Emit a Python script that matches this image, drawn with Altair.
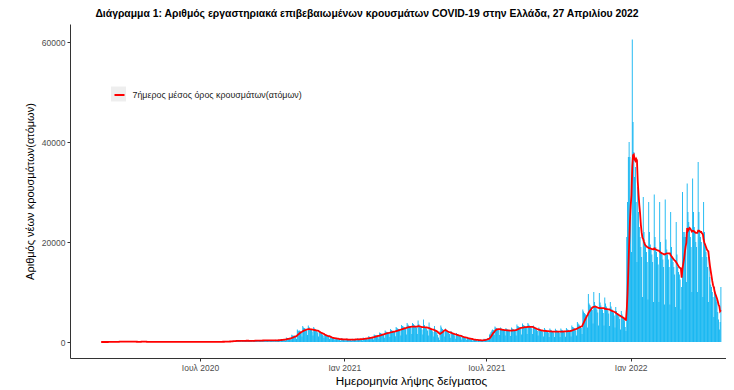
import altair as alt
import pandas as pd

# Daily laboratory-confirmed cases by sampling date, from 2020-02-26
cases_2020 = [
    1, 2, 0, 3, 0,
    2, 1, 0, 9, 14, 21, 4,
    26, 14, 10, 19, 36, 38, 12,
    58, 42, 50, 76, 84, 70, 40,
    95, 71, 78, 100, 92, 81, 55,
    98, 86, 102, 86, 60, 81, 32,
    70, 62, 54, 48, 40, 28, 20,
    30, 25, 22, 60, 150, 156, 20,
    90, 46, 24, 20, 15, 12, 6,
    18, 16, 13, 12, 8, 7, 4,
    12, 10, 9, 8, 6, 5, 3,
    11, 9, 8, 7, 6, 5, 2,
    12, 10, 8, 7, 9, 6, 3,
    10, 8, 7, 9, 14, 6, 3,
    12, 10, 9, 18, 12, 8, 4,
    17, 12, 13, 97, 24, 14, 6,
    20, 16, 24, 18, 15, 13, 6,
    22, 18, 19, 16, 14, 12, 5,
    26, 20, 18, 15, 24, 22, 10,
    30, 28, 22, 35, 40, 25, 12,
    38, 30, 34, 28, 40, 32, 14,
    45, 40, 36, 42, 38, 30, 18,
    60, 55, 68, 72, 58, 50, 30,
    110, 90, 125, 118, 120, 95, 60,
    210, 190, 230, 260, 200, 180, 110,
    270, 230, 250, 230, 220, 210, 120,
    300, 280, 260, 270, 250, 240, 130,
    320, 270, 230, 250, 240, 210, 120,
    330, 300, 280, 320, 270, 230, 130,
    380, 350, 330, 340, 300, 280, 150,
    420, 380, 360, 340, 320, 290, 160,
    400, 360, 350, 330, 310, 280, 150,
    460, 420, 400, 380, 360, 310, 170,
    620, 560, 540, 520, 500, 450, 260,
    900, 820, 800, 760, 720, 640, 380,
    1450, 1300, 1250, 1300, 1200, 1100, 620,
    2500, 2300, 2200, 2300, 2100, 1800, 1100,
    3200, 2900, 2800, 2700, 2500, 2300, 1400,
    3300, 3000, 2700, 2600, 2400, 2100, 1300,
    3000, 2700, 2500, 2300, 2100, 1900, 1100,
    2200, 2000, 1800, 1700, 1500, 1300, 800,
    1500, 1400, 1300, 1200, 1100, 1000, 600,
    1000, 900, 850, 800, 750, 650, 380,
    800, 750, 700, 550, 500, 400, 250,
    750, 700, 650, 500,
]

cases_2021 = [
    350, 400, 280,
    700, 600, 500, 450, 450, 420, 260,
    650, 600, 560, 520, 500, 460, 280,
    750, 650, 620, 600, 560, 520, 300,
    900, 800, 760, 740, 720, 660, 380,
    1150, 1050, 1000, 950, 900, 850, 500,
    1500, 1400, 1350, 1300, 1250, 1150, 650,
    1900, 1800, 1700, 1650, 1600, 1500, 850,
    2300, 2100, 2000, 1950, 1900, 1800, 1000,
    2600, 2400, 2300, 2200, 2150, 2000, 1150,
    3000, 2800, 2700, 2600, 2500, 2300, 1300,
    3400, 3200, 3100, 3000, 2900, 2700, 1500,
    3800, 3500, 3300, 3200, 3100, 2900, 1600,
    3800, 3600, 3400, 3200, 3100, 2900, 1600,
    4300, 3600, 3100, 2900, 2800, 2500, 1500,
    4500, 3400, 3000, 2800, 2600, 2300, 1300,
    3900, 3000, 2600, 2400, 2200, 2000, 1100,
    3200, 2500, 2100, 1800, 1400, 900, 400,
    2200, 3300, 2900, 2600, 2300, 2000, 1100,
    2700, 2400, 2200, 2000, 1800, 1600, 850,
    2200, 1900, 1700, 1600, 1400, 1250, 650,
    1800, 1550, 1350, 1250, 1150, 1000, 500,
    1300, 1100, 950, 900, 850, 750, 380,
    900, 750, 650, 600, 560, 480, 260,
    600, 500, 440, 420, 380, 330, 170,
    480, 400, 360, 340, 320, 280, 150,
    650, 580, 560, 620, 680, 720, 420,
    1500, 1700, 2000, 2300, 2500, 2400, 1400,
    3100, 2900, 2800, 2700, 2600, 2400, 1400,
    2900, 2700, 2600, 2500, 2400, 2200, 1300,
    2800, 2600, 2500, 2400, 2300, 2100, 1200,
    2900, 2700, 2600, 2500, 2400, 2200, 1300,
    3500, 3200, 3100, 3000, 2900, 2700, 1500,
    3700, 3400, 3300, 3200, 3000, 2800, 1600,
    3800, 3500, 3300, 3200, 3000, 2700, 1600,
    3300, 3000, 2800, 2700, 2500, 2200, 1300,
    2900, 2600, 2500, 2400, 2200, 2000, 1100,
    2800, 2500, 2400, 2300, 2100, 1900, 1000,
    2700, 2450, 2300, 2200, 2050, 1850, 1000,
    2650, 2400, 2300, 2200, 2050, 1850, 1000,
    2700, 2450, 2350, 2250, 2100, 1900, 1050,
    2800, 2550, 2450, 2350, 2200, 2000, 1100,
    3300, 3000, 2900, 2800, 2600, 2300, 1300,
    4000, 3700, 3500, 3300, 3100, 2800, 1600,
    6500, 6100, 5800, 5600, 5400, 5000, 2900,
    9600, 7700, 7400, 7100, 6900, 6400, 3700,
    10000, 8000, 7300, 6800, 6500, 5900, 3300,
    9800, 7900, 7300, 6800, 6500, 5800, 3300,
    8900, 7700, 7100, 6700, 6300, 5700, 3200,
    8000, 7100, 6600, 6200, 5900, 5300, 2900,
    7000, 6200, 5800, 5400, 5100, 4600, 2500,
    6200, 5500, 5100, 4700, 4300, 3000, 2200,
    21000, 28000, 37000, 40000, 37000,
]

cases_2022 = [
    25000, 18000,
    60500, 44000, 38000, 33000, 35000, 28000, 16000,
    31000, 26000, 23000, 21000, 19000, 17000, 9000,
    29000, 22000, 20000, 19000, 18000, 16000, 8500,
    28000, 22000, 19500, 18500, 17500, 16000, 8000,
    29500, 21000, 19000, 18000, 17000, 15500, 8000,
    28000, 20000, 18000, 17500, 16500, 15000, 7500,
    28500, 20500, 18500, 17500, 16500, 15000, 7500,
    26000, 19000, 17000, 16000, 15000, 13500, 7000,
    24000, 17500, 15000, 14000, 13500, 12500, 6500,
    11000, 30000, 22000, 21000, 22000, 21000, 12000,
    31700, 26000, 24000, 23000, 21000, 19000, 10000,
    32700, 26000, 23000, 22000, 20000, 19000, 10000,
    36000, 26000, 22000, 21000, 20000, 17000, 9000,
    28000, 22000, 19000, 18000, 17000, 15000, 8000,
    17000, 13000, 11500, 11000, 10000, 9000, 5000,
    11000, 9500, 8500, 8000, 6000, 4500, 2500,
    4000, 11000,
]

start_date = "2020-02-26"
title_text = "Διάγραμμα 1: Αριθμός εργαστηριακά επιβεβαιωμένων κρουσμάτων COVID-19 στην Ελλάδα, 27 Απριλίου 2022"
y_title = "Αριθμός νέων κρουσμάτων(ατόμων)"
x_title = "Ημερομηνία λήψης δείγματος"
legend_label = "7ήμερος μέσος όρος κρουσμάτων(ατόμων)"
y_ticks = [0, 20000, 40000, 60000]

cases = cases_2020 + cases_2021 + cases_2022
dates = pd.date_range(start_date, periods=len(cases), freq="D")
df = pd.DataFrame({"date": dates, "cases": cases})
df["x0"] = df["date"] - pd.Timedelta(hours=13)
df["x1"] = df["date"] + pd.Timedelta(hours=13)
df["series"] = legend_label

key_df = pd.DataFrame({"key": ["key"]})

FONT = "Liberation Sans"

x_scale = alt.Scale(
    domain=[alt.DateTime(year=2020, month=1, date=17, hours=7),
            alt.DateTime(year=2022, month=5, date=2, hours=12)],
    nice=False,
)
y_scale = alt.Scale(domain=[-3200, 63600], nice=False, zero=False)

x_axis = alt.Axis(
    title=x_title,
    values=[alt.DateTime(year=2020, month=7, date=1),
            alt.DateTime(year=2021, month=1, date=1),
            alt.DateTime(year=2021, month=7, date=1),
            alt.DateTime(year=2022, month=1, date=1)],
    labelExpr="(month(datum.value) == 0 ? 'Ιαν ' : 'Ιουλ ') + year(datum.value)",
    grid=False,
    titleX=341,
)
y_axis = alt.Axis(title=y_title, values=y_ticks, format="d", grid=False)

base = alt.Chart(df)

bars = base.mark_bar(color="#00b0f0").encode(
    x=alt.X("x0:T", scale=x_scale, axis=x_axis),
    x2="x1:T",
    y=alt.Y("cases:Q", scale=y_scale, axis=y_axis),
    y2=alt.datum(0),
)

line = base.transform_window(
    avg="mean(cases)", frame=[-6, 0], sort=[{"field": "date"}]
).mark_line(strokeWidth=1.8).encode(
    x=alt.X("date:T", scale=x_scale),
    y=alt.Y("avg:Q", scale=y_scale),
    color=alt.Color(
        "series:N",
        scale=alt.Scale(domain=[legend_label], range=["#ff0000"]),
        legend=alt.Legend(
            title=None,
            orient="none",
            legendX=43.5,
            legendY=65,
            symbolType="stroke",
            symbolSize=100,
            symbolStrokeWidth=2,
            labelFontSize=8.9,
            labelFont=FONT,
            labelColor="#1a1a1a",
            labelOffset=7,
            labelLimit=400,
            padding=0,
            zindex=2,
        ),
    ),
)

# grey background of the legend key
key_bg = alt.Chart(key_df).mark_point(size=0, opacity=0, filled=True).encode(
    fill=alt.Fill(
        "key:N",
        scale=alt.Scale(domain=["key"], range=["#eeeeee"]),
        legend=alt.Legend(
            title=None,
            orient="none",
            legendX=41,
            legendY=62.5,
            symbolType="square",
            symbolSize=225,
            symbolOpacity=1,
            symbolStrokeWidth=0,
            labelExpr="''",
            labelFontSize=1,
            padding=0,
            zindex=1,
        ),
    ),
)

chart = alt.layer(bars, line, key_bg).resolve_scale(color="independent").properties(
    width=656,
    height=334,
    autosize=alt.AutoSizeParams(type="none"),
    padding={"left": 62, "top": 16, "right": 0, "bottom": 30},
    title=alt.TitleParams(
        title_text, font=FONT, fontSize=10.4, fontWeight="bold",
        anchor="middle", dx=-31, offset=5, color="#000000",
    ),
).configure_view(stroke=None).configure_axis(
    labelFont=FONT,
    titleFont=FONT,
    labelFontSize=8.5,
    labelColor="#4d4d4d",
    titleFontWeight="normal",
    titleColor="#000000",
    domainColor="#333333",
    domainWidth=1,
    tickColor="#333333",
    tickSize=3,
    labelPadding=2,
).configure_axisY(titlePadding=6, titleFontSize=11).configure_axisX(
    titlePadding=4, titleFontSize=11.7
)

chart.save("out.html", embed_options={"renderer": "svg", "actions": False})
